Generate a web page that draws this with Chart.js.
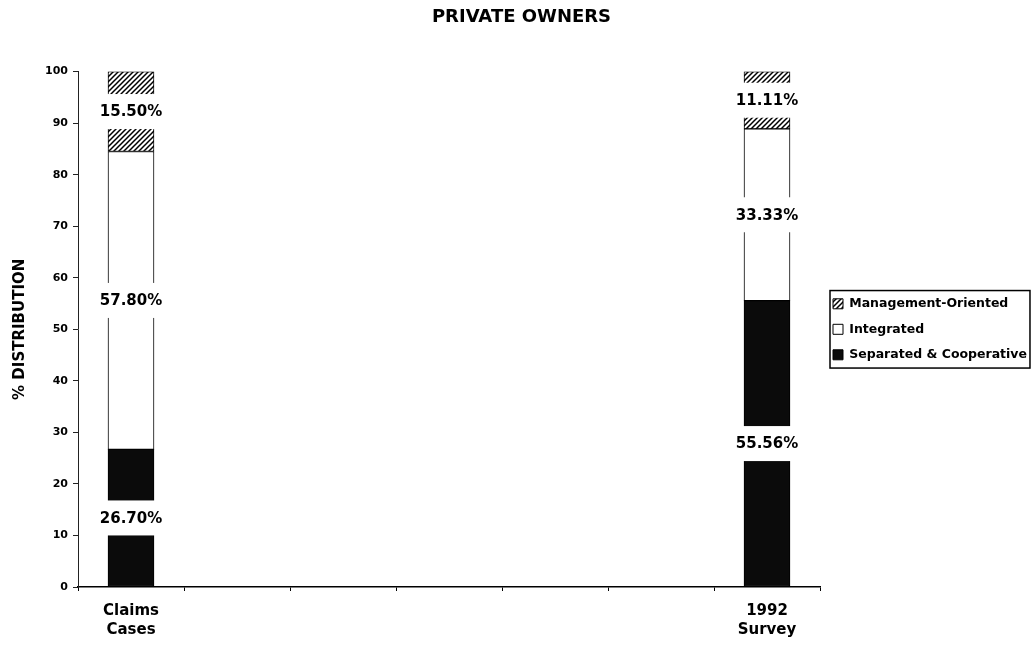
<!DOCTYPE html>
<html>
<head>
<meta charset="utf-8">
<script src="https://cdn.jsdelivr.net/npm/chart.js@4.4.1/dist/chart.umd.min.js"></script>
<style>
  html, body { margin: 0; padding: 0; background: #fff; }
  #wrap { width: 1035px; height: 651px; }
</style>
</head>
<body>
<div id="wrap"><canvas id="ownersChart" width="1035" height="651"></canvas></div>
<script>
const categories = [["Claims", "Cases"], ["1992", "Survey"]];
const seriesNames = ["Separated & Cooperative", "Integrated", "Management-Oriented"];
const separated = [26.7, 55.56];
const integrated = [57.8, 33.33];
const management = [15.5, 11.11];
const yTicks = [0, 10, 20, 30, 40, 50, 60, 70, 80, 90, 100];

const FONT = "'DejaVu Sans', 'Liberation Sans', sans-serif";

// the two groups sit at the two ends of a long axis, empty slots in between
const emptySlots = 5;
function spread(values) {
  return [values[0], ...Array(emptySlots).fill(null), values[1]];
}
const slotLabels = spread(categories).map(l => (l === null ? "" : l));

const canvas = document.getElementById("ownersChart");

function hatchPattern() {
  const tile = document.createElement("canvas");
  tile.width = 5;
  tile.height = 5;
  const g = tile.getContext("2d");
  g.fillStyle = "#fff";
  g.fillRect(0, 0, 5, 5);
  g.strokeStyle = "#000";
  g.lineWidth = 1.5;
  g.beginPath();
  g.moveTo(0, 5); g.lineTo(5, 0);
  g.moveTo(-1, 1); g.lineTo(1, -1);
  g.moveTo(4, 6); g.lineTo(6, 4);
  g.stroke();
  return canvas.getContext("2d").createPattern(tile, "repeat");
}

// white box with the percentage, centred on each segment
const valueBoxes = {
  id: "valueBoxes",
  afterDatasetsDraw(chart) {
    const ctx = chart.ctx;
    ctx.save();
    ctx.font = "bold 15px " + FONT;
    ctx.textAlign = "center";
    ctx.textBaseline = "middle";
    chart.data.datasets.forEach((ds, i) => {
      chart.getDatasetMeta(i).data.forEach((bar, j) => {
        const v = ds.data[j];
        if (v === null || v === undefined) return;
        const mid = (bar.y + bar.base) / 2;
        ctx.fillStyle = "#fff";
        ctx.fillRect(bar.x - bar.width / 2 - 2, mid - 17.5, bar.width + 4, 35);
        ctx.fillStyle = "#000";
        ctx.fillText(v.toFixed(2) + "%", bar.x, mid + 1);
      });
    });
    ctx.restore();
  }
};

// thin frame around the legend entries
const legendFrame = {
  id: "legendFrame",
  afterDraw(chart) {
    const boxes = chart.legend.legendHitBoxes;
    if (!boxes || !boxes.length) return;
    let l = Infinity, t = Infinity, r = -Infinity, b = -Infinity;
    boxes.forEach(h => {
      l = Math.min(l, h.left);
      t = Math.min(t, h.top);
      r = Math.max(r, h.left + h.width);
      b = Math.max(b, h.top + h.height);
    });
    const ctx = chart.ctx;
    ctx.save();
    ctx.strokeStyle = "#000";
    ctx.lineWidth = 1.5;
    ctx.strokeRect(l - 3, t - 7, r - l + 6, b - t + 14);
    ctx.restore();
  }
};

const barStyle = {
  borderColor: "#000",
  borderWidth: 1,
  borderSkipped: false,
  barThickness: 46
};

new Chart(canvas, {
  type: "bar",
  data: {
    labels: slotLabels,
    datasets: [
      Object.assign({ label: seriesNames[0], data: spread(separated), backgroundColor: "#0b0b0b" }, barStyle),
      Object.assign({ label: seriesNames[1], data: spread(integrated), backgroundColor: "#fff" }, barStyle),
      Object.assign({ label: seriesNames[2], data: spread(management), backgroundColor: hatchPattern() }, barStyle)
    ]
  },
  options: {
    responsive: false,
    devicePixelRatio: 1,
    animation: false,
    layout: { padding: { left: 8, right: 0, top: 0, bottom: 0 } },
    plugins: {
      title: {
        display: true,
        text: "PRIVATE OWNERS",
        color: "#000",
        font: { family: FONT, size: 18, weight: "bold" },
        padding: { top: 7, bottom: 43 }
      },
      legend: {
        position: "right",
        fullSize: false,
        reverse: true,
        maxWidth: 215,
        labels: {
          color: "#000",
          font: { family: FONT, size: 12.5, weight: "bold" },
          boxWidth: 10,
          boxHeight: 10,
          padding: 13
        }
      },
      tooltip: { enabled: false }
    },
    scales: {
      x: {
        stacked: true,
        grid: { offset: true, drawOnChartArea: false, tickLength: 4, color: "#000" },
        border: { color: "#000", width: 1.5 },
        ticks: {
          color: "#000",
          font: { family: FONT, size: 15, weight: "bold", lineHeight: 1.3 },
          padding: 10,
          maxRotation: 0,
          autoSkip: false
        },
        afterFit: s => { s.height = 64; }
      },
      y: {
        stacked: true,
        min: 0,
        max: 100,
        afterBuildTicks: s => { s.ticks = yTicks.map(v => ({ value: v })); },
        grid: { drawOnChartArea: false, tickLength: 5, color: "#222" },
        border: { color: "#222", width: 1 },
        ticks: {
          color: "#000",
          font: { family: FONT, size: 11, weight: "bold" },
          padding: 5
        },
        title: {
          display: true,
          text: "% DISTRIBUTION",
          color: "#000",
          font: { family: FONT, size: 15, weight: "bold" },
          padding: { top: 3, bottom: 0 }
        },
        afterFit: s => { s.width = 70; }
      }
    }
  },
  plugins: [valueBoxes, legendFrame]
});
</script>
</body>
</html>
